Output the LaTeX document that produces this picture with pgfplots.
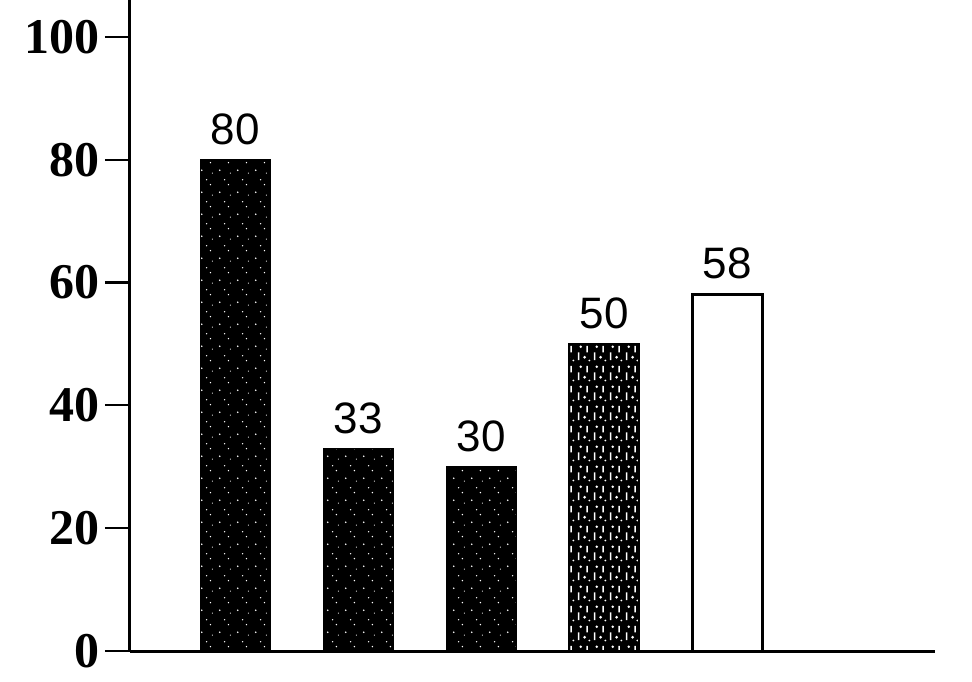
\documentclass[border=0pt]{standalone}
\usepackage{fontspec}
\setmainfont{Liberation Serif}
\newfontfamily\labfont{Liberation Sans}
\usepackage{pgfplots}
\pgfplotsset{compat=1.18}
\usetikzlibrary{patterns}
\pgfdeclarepatternformonly{speckle}{\pgfpointorigin}{\pgfpoint{9pt}{11pt}}{\pgfpoint{9pt}{11pt}}{%
  \pgfpathcircle{\pgfpoint{2pt}{3pt}}{0.45pt}%
  \pgfpathcircle{\pgfpoint{6.5pt}{7pt}}{0.4pt}%
  \pgfpathcircle{\pgfpoint{4.5pt}{9.5pt}}{0.35pt}%
  \pgfpathcircle{\pgfpoint{7.5pt}{1.5pt}}{0.3pt}%
  \pgfusepath{fill}}
\pgfdeclarepatternformonly{mottle}{\pgfpointorigin}{\pgfpoint{8pt}{10pt}}{\pgfpoint{8pt}{10pt}}{%
  \pgfpathrectangle{\pgfpoint{1pt}{1pt}}{\pgfpoint{0.8pt}{4pt}}%
  \pgfpathcircle{\pgfpoint{4.5pt}{2.5pt}}{0.8pt}%
  \pgfpathrectangle{\pgfpoint{5.5pt}{5pt}}{\pgfpoint{0.7pt}{3.5pt}}%
  \pgfpathcircle{\pgfpoint{2.5pt}{8pt}}{0.7pt}%
  \pgfpathcircle{\pgfpoint{7pt}{0.8pt}}{0.5pt}%
  \pgfusepath{fill}}
\begin{document}
\begin{tikzpicture}
\useasboundingbox (-65pt,-15pt) rectangle (421pt,325.5pt);
\begin{axis}[
  at={(0,0)}, anchor=south west,
  scale only axis, width=402.5pt, height=325.5pt,
  xmin=0.146, xmax=6.69, ymin=0, ymax=106,
  axis x line=bottom, axis y line=left,
  axis line style={-, line width=1.5pt, black},
  xtick=\empty,
  ytick={0,20,40,60,80,100},
  tick align=outside,
  major tick length=12.5pt,
  tick style={line width=1.1pt, black},
  /pgf/number format/assume math mode=true,
  yticklabel style={font=\bfseries\fontsize{25}{25}\selectfont, inner sep=0pt, xshift=-2.5pt},
  nodes near coords,
  every node near coord/.append style={font=\labfont\fontsize{22}{22}\selectfont, anchor=south, inner sep=0pt, yshift=7pt, black},
  clip=false,
]
\addplot[ybar, bar width=0.57, bar shift=0pt, fill=black, draw=black,
  postaction={pattern=speckle, pattern color=white}] coordinates {(1,80)};
\addplot[ybar, bar width=0.57, bar shift=0pt, fill=black, draw=black,
  postaction={pattern=speckle, pattern color=white}] coordinates {(2,33)};
\addplot[ybar, bar width=0.57, bar shift=0pt, fill=black, draw=black,
  postaction={pattern=speckle, pattern color=white}] coordinates {(3,30)};
\addplot[ybar, bar width=0.57, bar shift=0pt, fill=black, draw=black, line width=1.2pt,
  postaction={pattern=mottle, pattern color=white}] coordinates {(4,50)};
\addplot[ybar, bar width=0.57, bar shift=0pt, fill=white, draw=black, line width=1.5pt] coordinates {(5,58)};
\end{axis}
\end{tikzpicture}
\end{document}
